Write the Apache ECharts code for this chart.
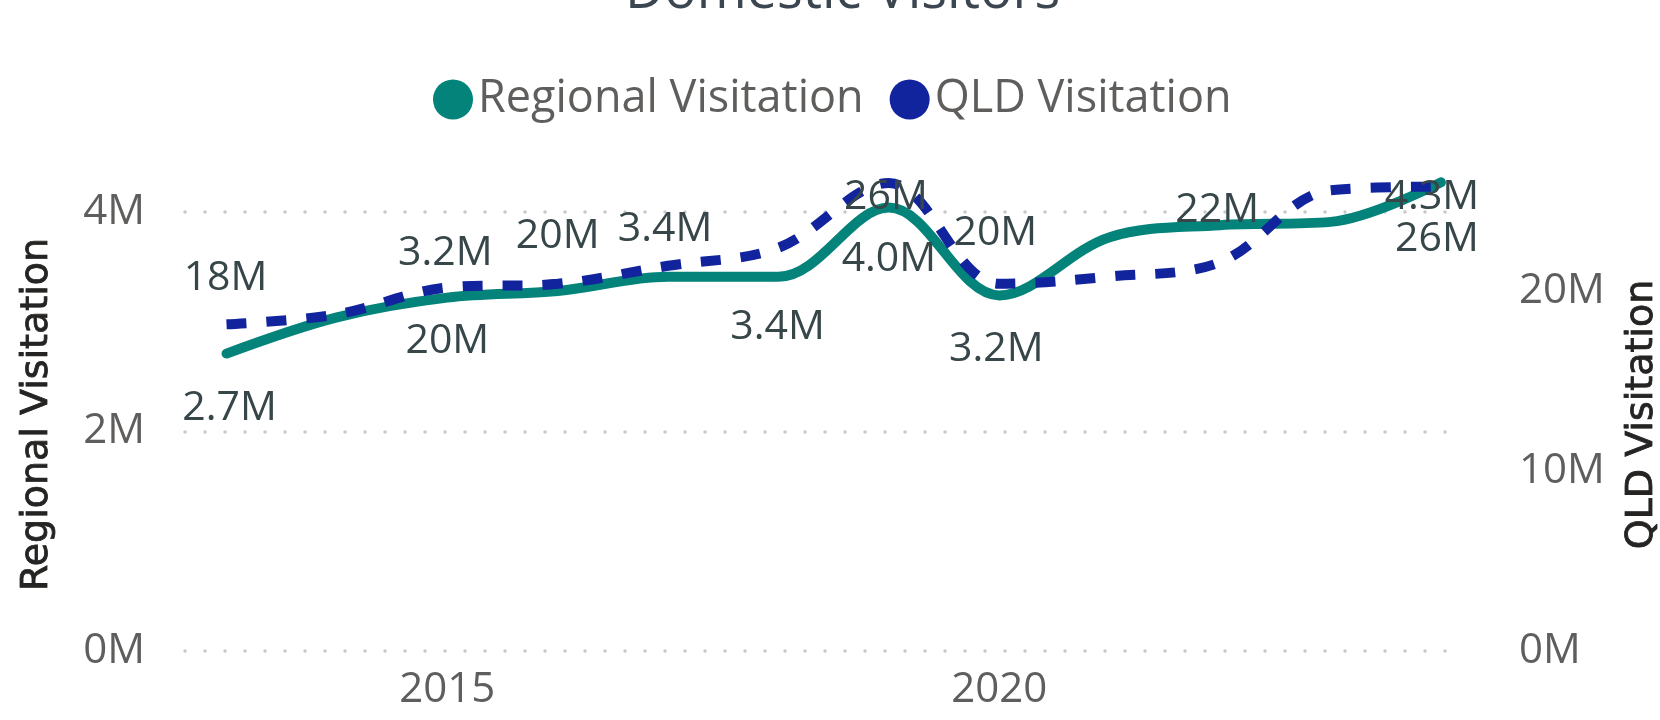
<!DOCTYPE html>
<html lang="en">
<head>
    <meta charset="UTF-8">
    <title>Domestic Visitors</title>
    <style>
        html, body {
            margin: 0;
            padding: 0;
            width: 100%;
            height: 100%;
            overflow: hidden;
            background: #fff;
        }
        #chart {
            width: 1660px;
            height: 720px;
        }
    </style>
</head>
<body>
<div id="chart"></div>
<script src="https://cdn.jsdelivr.net/npm/echarts@6/dist/echarts.min.js"></script>
<script>
    // data, in millions
    var years = [2013, 2014, 2015, 2016, 2017, 2018, 2019, 2020, 2021, 2022, 2023, 2024];
    var regionalVisitation = [2.71, 3.04, 3.22, 3.28, 3.41, 3.41, 4.04, 3.24, 3.77, 3.88, 3.91, 4.27];
    var qldVisitation = [18.15, 18.7, 20.2, 20.4, 21.4, 22.4, 26.0, 20.4, 20.8, 21.6, 25.6, 25.8];
    var yearTicks = [2015, 2020];

    // which points carry a data label, and where it sits (px from the point)
    var regionalLabelOffset = [[3, 55], null, [-2, -44], null, [-3, -47], [-1, 51], [0, 52], [-3, 54], null, null, null, [-9, 15]];
    var qldLabelOffset = [[-1, -46], null, [0, 54], [0, -47], null, null, [-3, 14], [-4, -50], null, [-3, -52], null, [-4, 53]];

    var labelFont = {
        fontFamily: 'Open Sans',
        fontSize: 41,
        color: '#374649'
    };

    var axisNameFont = {
        fontFamily: 'DejaVu Sans',
        fontSize: 38,
        color: '#252423',
        textBorderColor: '#252423',
        textBorderWidth: 0.8
    };

    function buildData(values, offsets) {
        return years.map(function (y, i) {
            var off = offsets[i];
            return {
                value: [y, values[i]],
                label: off ? { show: true, offset: off } : { show: false }
            };
        });
    }

    var chart = echarts.init(document.getElementById('chart'));

    var option = {
        animation: false,
        backgroundColor: '#fff',
        title: {
            text: 'Domestic Visitors',
            left: 620,
            top: -39,
            textStyle: {
                fontFamily: 'Open Sans',
                fontSize: 54,
                fontWeight: 'normal',
                color: '#3b4650'
            }
        },
        legend: {
            data: ['Regional Visitation', 'QLD Visitation'],
            icon: 'circle',
            itemWidth: 40,
            itemHeight: 40,
            itemGap: 26,
            left: 428,
            top: 72,
            textStyle: {
                fontFamily: 'Open Sans',
                fontSize: 45,
                color: '#605e5c'
            }
        },
        grid: {
            left: 185,
            right: 195,
            top: 178,
            bottom: 69,
            outerBoundsMode: 'none'
        },
        xAxis: {
            type: 'value',
            min: 2012.624,
            max: 2024.218,
            axisLine: { show: false },
            axisTick: { show: false },
            splitLine: { show: false },
            axisLabel: {
                customValues: yearTicks,
                margin: 18,
                fontFamily: 'Open Sans',
                fontSize: 42,
                color: '#605e5c',
                formatter: function (v) { return String(v); }
            }
        },
        yAxis: [{
            type: 'value',
            position: 'left',
            min: 0,
            max: 4.3098,
            interval: 2,
            name: 'Regional Visitation',
            nameLocation: 'middle',
            nameRotate: 90,
            nameGap: 129,
            nameTextStyle: axisNameFont,
            axisLine: { show: false },
            axisTick: { show: false },
            axisLabel: {
                margin: 40,
                showMaxLabel: false,
                fontFamily: 'Open Sans',
                fontSize: 42,
                color: '#605e5c',
                formatter: function (v) { return v + 'M'; }
            },
            splitLine: {
                show: true,
                showMaxLine: false,
                lineStyle: {
                    color: '#c8c8c8',
                    width: 3.5,
                    type: [0.0001, 19.9999],
                    cap: 'round'
                }
            }
        }, {
            type: 'value',
            position: 'right',
            min: 0,
            max: 26.278,
            interval: 10,
            name: 'QLD Visitation',
            nameLocation: 'middle',
            nameRotate: 90,
            nameGap: 158,
            nameTextStyle: axisNameFont,
            axisLine: { show: false },
            axisTick: { show: false },
            axisLabel: {
                margin: 54,
                showMaxLabel: false,
                fontFamily: 'Open Sans',
                fontSize: 42,
                color: '#605e5c',
                formatter: function (v) { return v + 'M'; }
            },
            splitLine: { show: false }
        }],
        series: [{
            name: 'Regional Visitation',
            type: 'line',
            yAxisIndex: 0,
            smooth: 0.35,
            clip: false,
            color: '#03837a',
            symbol: 'circle',
            symbolSize: 0.01,
            lineStyle: { width: 10, cap: 'round' },
            label: Object.assign({
                position: 'inside',
                formatter: function (p) { return p.value[1].toFixed(1) + 'M'; }
            }, labelFont),
            emphasis: { disabled: true },
            data: buildData(regionalVisitation, regionalLabelOffset)
        }, {
            name: 'QLD Visitation',
            type: 'line',
            yAxisIndex: 1,
            smooth: 0.35,
            clip: false,
            color: '#12239e',
            symbol: 'circle',
            symbolSize: 0.01,
            lineStyle: { width: 10, type: [20, 20], cap: 'butt' },
            label: Object.assign({
                position: 'inside',
                formatter: function (p) { return Math.round(p.value[1]) + 'M'; }
            }, labelFont),
            emphasis: { disabled: true },
            data: buildData(qldVisitation, qldLabelOffset)
        }]
    };

    chart.setOption(option);
</script>
</body>
</html>
